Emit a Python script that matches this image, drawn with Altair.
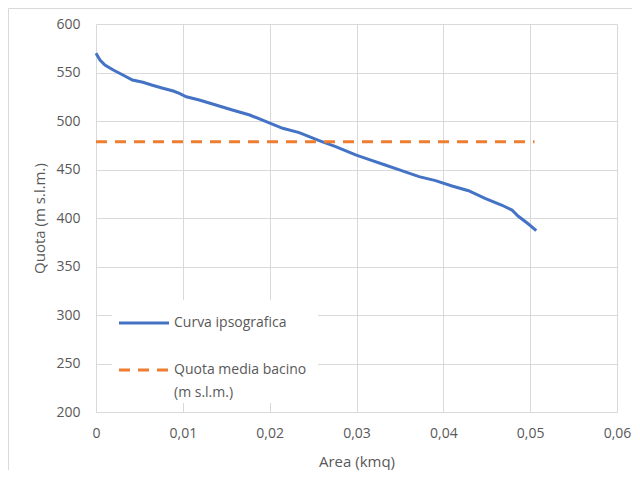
import altair as alt
import pandas as pd

# Curva ipsografica: area (kmq) vs quota (m s.l.m.)
area = [0.0, 0.00046, 0.00103, 0.00199, 0.0031, 0.0042, 0.0054, 0.0065, 0.0077, 0.0089,
        0.0096, 0.0104, 0.0119, 0.0138, 0.0157, 0.0177, 0.0196, 0.0215, 0.0234, 0.0257,
        0.0276, 0.0299, 0.0314, 0.0333, 0.0352, 0.0372, 0.0391, 0.0410, 0.0429, 0.0448,
        0.0467, 0.0479, 0.0486, 0.0498, 0.0507]
quota = [569.8, 562.9, 557.7, 552.6, 547.4, 542.3, 539.9, 536.8, 533.7, 530.9,
         528.5, 525.0, 521.6, 516.5, 511.3, 506.2, 499.3, 492.5, 488.0, 479.7,
         473.5, 465.0, 460.5, 454.6, 448.8, 442.6, 438.5, 433.0, 428.1, 420.3,
         413.4, 408.2, 402.0, 393.8, 386.9]

quota_media = 478.5
media_area = [0.0, 0.0505]

series_names = ["Curva ipsografica", "Quota media bacino (m s.l.m.)"]
legend_lines = [["Curva ipsografica"], ["Quota media bacino", "(m s.l.m.)"]]
colors = ["#4472C4", "#ED7D31"]

x_ticks = [0, 0.01, 0.02, 0.03, 0.04, 0.05, 0.06]
y_ticks = [200, 250, 300, 350, 400, 450, 500, 550, 600]

df_curve = pd.DataFrame({"area": area, "quota": quota})
df_media = pd.DataFrame({"a0": [media_area[0]], "a1": [media_area[1]], "quota": [quota_media]})

FONT = "Open Sans"
TXT = "#595959"

x_scale = alt.Scale(domain=[0, 0.06], nice=False)
y_scale = alt.Scale(domain=[200, 600], nice=False, zero=False)

x_enc = alt.X("area:Q", title="Area (kmq)", scale=x_scale,
              axis=alt.Axis(values=x_ticks, labelFlush=False,
                            labelExpr="datum.value == 0 ? '0' : replace(format(datum.value, '.2f'), '.', ',')"))
y_enc = alt.Y("quota:Q", title="Quota (m s.l.m.)", scale=y_scale,
              axis=alt.Axis(values=y_ticks, labelFlush=False))

curve = alt.Chart(df_curve).mark_line(strokeWidth=3, color=colors[0]).encode(
    x=x_enc, y=y_enc)
media = alt.Chart(df_media).mark_rule(strokeWidth=3, color=colors[1],
                                      strokeDash=[11, 8]).encode(
    x=alt.X("a0:Q", scale=x_scale, title="Area (kmq)"),
    x2="a1:Q",
    y=alt.Y("quota:Q", scale=y_scale, title="Quota (m s.l.m.)"))

one = alt.Data(values=[{}])

border = alt.Chart(one).mark_rect(
    fill=None, stroke="#d9d9d9", strokeWidth=1, clip=False
).encode(x=alt.value(-87.5), x2=alt.value(560), y=alt.value(-15.5), y2=alt.value(470))

# Legend (drawn inside the plot area, white box)
leg_box = alt.Chart(one).mark_rect(fill="white", stroke=None).encode(
    x=alt.value(16), x2=alt.value(222), y=alt.value(276), y2=alt.value(379))
leg_sym1 = alt.Chart(one).mark_rule(color=colors[0], strokeWidth=3).encode(
    x=alt.value(23), x2=alt.value(73), y=alt.value(299))
leg_sym2 = alt.Chart(one).mark_rule(color=colors[1], strokeWidth=3, strokeDash=[11, 8]).encode(
    x=alt.value(23), x2=alt.value(73), y=alt.value(346))
leg_txt = []
for text, ypos in [(legend_lines[0][0], 299), (legend_lines[1][0], 346), (legend_lines[1][1], 369)]:
    leg_txt.append(alt.Chart(one).mark_text(
        align="left", baseline="middle", font=FONT, fontSize=14, color=TXT
    ).encode(x=alt.value(78), y=alt.value(ypos), text=alt.value(text)))

chart = alt.layer(border, curve, media, leg_box, leg_sym1, leg_sym2, *leg_txt).properties(
    width=521, height=388,
    autosize=alt.AutoSizeParams(type="none"),
    padding={"left": 88, "top": 16, "right": 15, "bottom": 58},
).configure_view(stroke=None).configure_axis(
    grid=True, gridColor="#d9d9d9", gridWidth=1,
    domain=False, ticks=False,
    labelFont=FONT, labelFontSize=14, labelColor=TXT,
    titleFont=FONT, titleFontSize=15, titleColor=TXT, titleFontWeight="normal",
).configure_axisX(labelPadding=14, titlePadding=14, domain=True, domainColor="#d9d9d9") \
 .configure_axisY(labelPadding=16, titlePadding=8)

chart.save("out.html", embed_options={"renderer": "svg", "actions": False})
